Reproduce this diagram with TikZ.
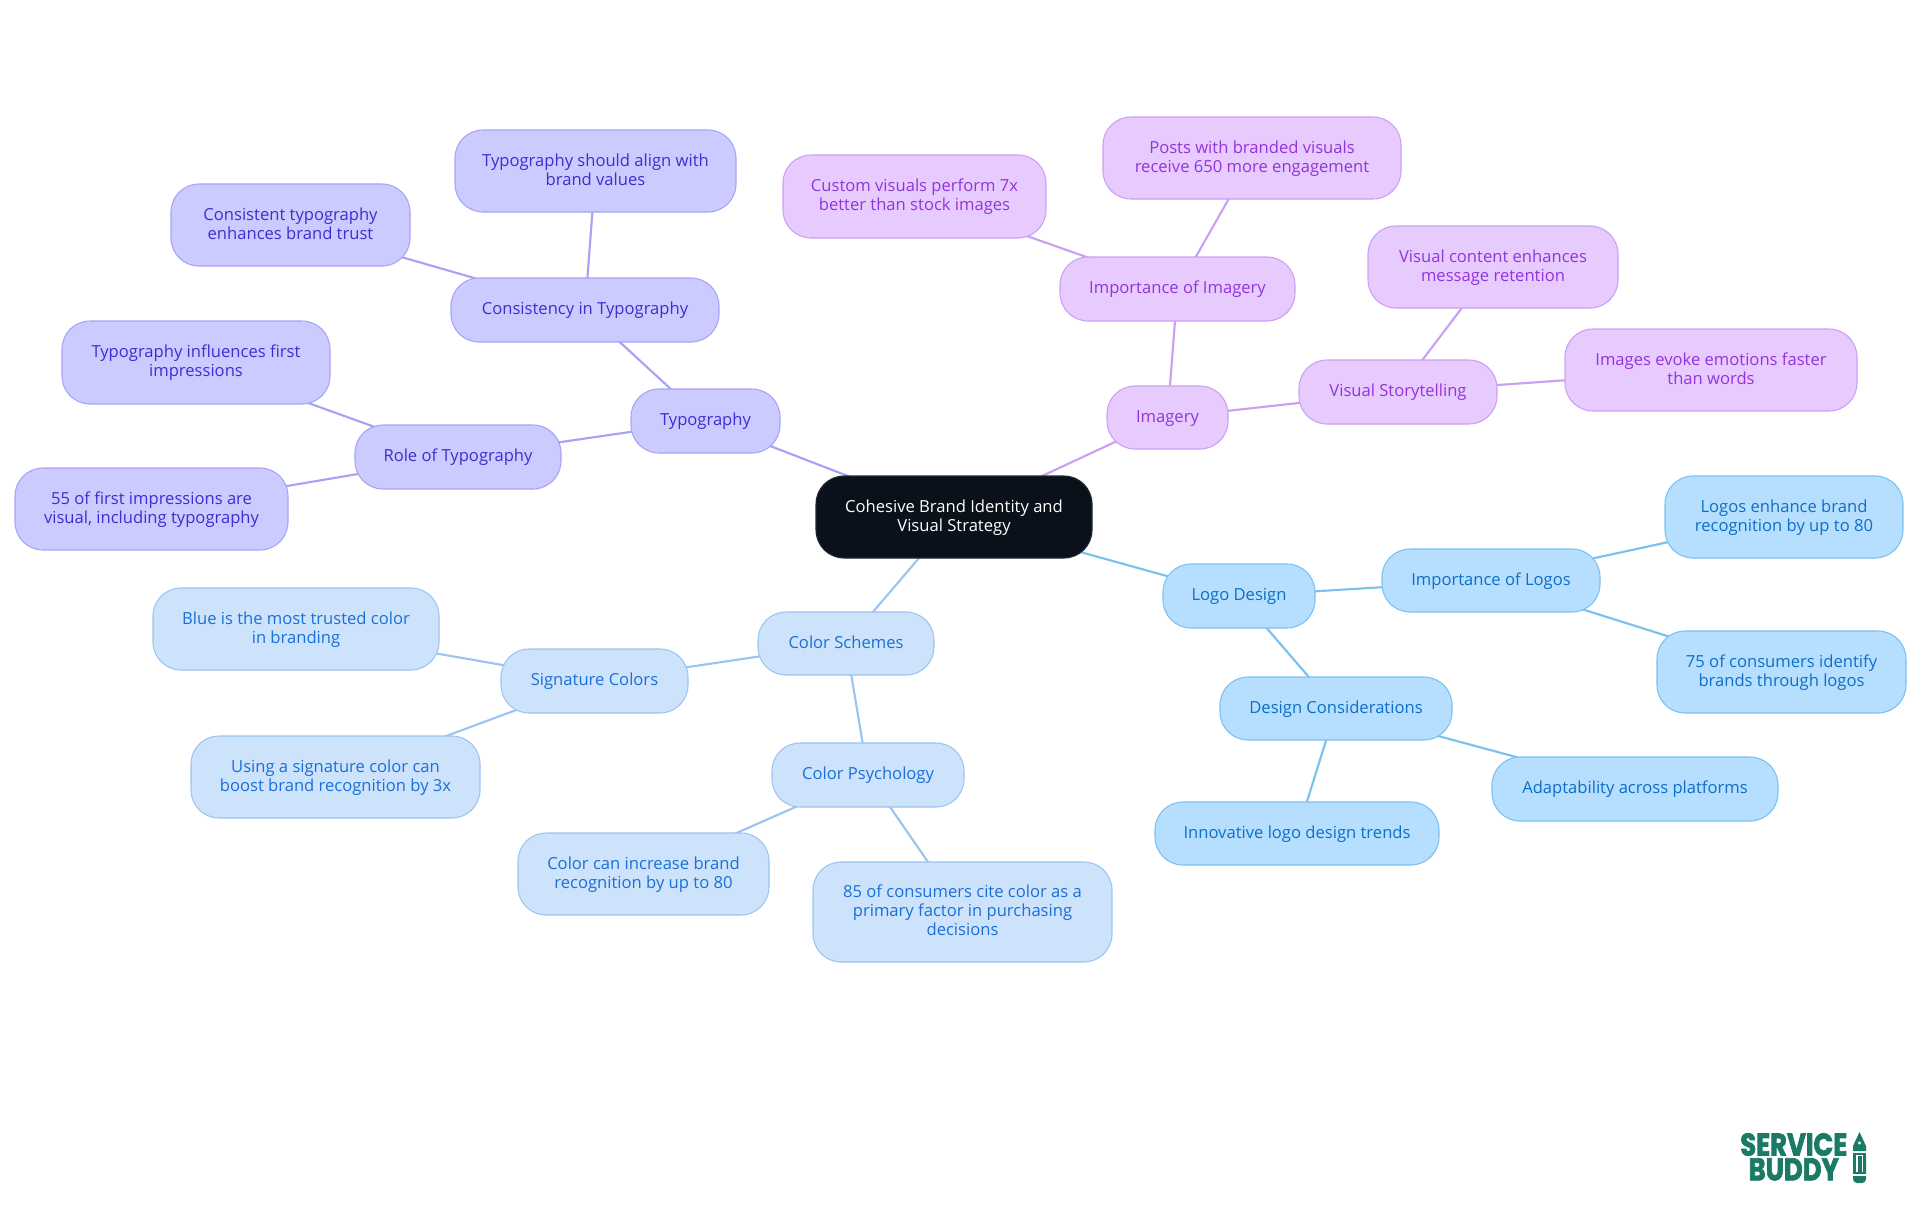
\documentclass[tikz,border=0pt]{standalone}
\usepackage{fontspec}
\setmainfont{Open Sans}
\newfontfamily\logofont[BoldFeatures={FakeBold=2.5}]{Poppins}
\usetikzlibrary{backgrounds}
\definecolor{rootfill}{HTML}{0B111A}
\definecolor{tyfill}{HTML}{CCCBFF}\definecolor{tyline}{HTML}{A5A3F5}\definecolor{tytext}{HTML}{3A2FD2}
\definecolor{imfill}{HTML}{E7CBFF}\definecolor{imline}{HTML}{CB9FF2}\definecolor{imtext}{HTML}{9234DC}
\definecolor{lgfill}{HTML}{B5DEFF}\definecolor{lgline}{HTML}{7CC0F0}\definecolor{lgtext}{HTML}{0F6FC6}
\definecolor{csfill}{HTML}{CDE3FC}\definecolor{csline}{HTML}{9CC4F0}\definecolor{cstext}{HTML}{1A6FD8}
\definecolor{brand}{HTML}{1B7A66}
\tikzset{
  box/.style={rounded corners=21pt,line width=0.8pt,inner sep=0pt,font=\fontsize{12.45}{14.25}\selectfont},
  rootbox/.style={box,fill=rootfill,draw=rootfill!90!white,text=white},
  tybox/.style={box,fill=tyfill,draw=tyline,text=tytext},
  imbox/.style={box,fill=imfill,draw=imline,text=imtext},
  lgbox/.style={box,fill=lgfill,draw=lgline,text=lgtext},
  csbox/.style={box,fill=csfill,draw=csline,text=cstext},
  tyedge/.style={draw=tyline,line width=1.6pt},
  imedge/.style={draw=imline,line width=1.6pt},
  lgedge/.style={draw=lgline,line width=1.6pt},
  csedge/.style={draw=csline,line width=1.6pt},
}
\newcommand{\nd}[7]{\node[#6,minimum width={(#4-#2)*0.75pt},minimum height={(#5-#3)*0.75pt}] (#1) at ({(#2+#4)/2},{(#3+#5)/2}) {\raisebox{-0.6pt}[\height][\depth]{\begin{tabular}{@{}c@{}}#7\end{tabular}}};}
\begin{document}
\begin{tikzpicture}[x=0.75pt,y=-0.75pt]
\useasboundingbox (0,0) rectangle (1920,1215);
\nd{root}{816}{476}{1092}{558}{rootbox}{Cohesive Brand Identity and\\Visual Strategy}
\nd{ty}{631}{389}{780}{453}{tybox}{Typography}
\nd{tycons}{451}{278}{719}{342}{tybox}{Consistency in Typography}
\nd{tyalign}{455}{130}{736}{212}{tybox}{Typography should align with\\brand values}
\nd{tytrust}{171}{184}{410}{266}{tybox}{Consistent typography\\enhances brand trust}
\nd{tyrole}{355}{425}{561}{489}{tybox}{Role of Typography}
\nd{tyfirst}{62}{321}{330}{404}{tybox}{Typography influences first\\impressions}
\nd{tyfive}{15}{468}{288}{550}{tybox}{55 of first impressions are\\visual, including typography}
\nd{im}{1107}{386}{1228}{449}{imbox}{Imagery}
\nd{imimp}{1060}{257}{1295}{321}{imbox}{Importance of Imagery}
\nd{imcustom}{783}{155}{1046}{238}{imbox}{Custom visuals perform 7x\\better than stock images}
\nd{imposts}{1103}{117}{1401}{199}{imbox}{Posts with branded visuals\\receive 650 more engagement}
\nd{imstory}{1299}{360}{1497}{424}{imbox}{Visual Storytelling}
\nd{imcontent}{1368}{226}{1618}{308}{imbox}{Visual content enhances\\message retention}
\nd{imevoke}{1565}{329}{1857}{411}{imbox}{Images evoke emotions faster\\than words}
\nd{lg}{1163}{564}{1315}{628}{lgbox}{Logo Design}
\nd{lgimp}{1382}{549}{1600}{612}{lgbox}{Importance of Logos}
\nd{lgenh}{1665}{476}{1903}{558}{lgbox}{Logos enhance brand\\recognition by up to 80}
\nd{lgsev}{1657}{631}{1906}{713}{lgbox}{75 of consumers identify\\brands through logos}
\nd{lgdes}{1220}{677}{1452}{740}{lgbox}{Design Considerations}
\nd{lgadapt}{1492}{757}{1778}{821}{lgbox}{Adaptability across platforms}
\nd{lginno}{1155}{802}{1439}{865}{lgbox}{Innovative logo design trends}
\nd{cs}{758}{612}{934}{675}{csbox}{Color Schemes}
\nd{cssig}{501}{649}{688}{713}{csbox}{Signature Colors}
\nd{csblue}{153}{588}{439}{670}{csbox}{Blue is the most trusted color\\in branding}
\nd{csusing}{191}{736}{480}{818}{csbox}{Using a signature color can\\boost brand recognition by 3x}
\nd{cspsy}{772}{743}{964}{807}{csbox}{Color Psychology}
\nd{cscan}{518}{833}{769}{915}{csbox}{Color can increase brand\\recognition by up to 80}
\nd{cseight}{813}{862}{1112}{962}{csbox}{85 of consumers cite color as a\\primary factor in purchasing\\decisions}
\begin{pgfonlayer}{background}
\draw[tyedge] (root.center)--(ty.center);
\draw[tyedge] (ty.center)--(tycons.center);
\draw[tyedge] (ty.center)--(tyrole.center);
\draw[tyedge] (tycons.center)--(tyalign.center);
\draw[tyedge] (tycons.center)--(tytrust.center);
\draw[tyedge] (tyrole.center)--(tyfirst.center);
\draw[tyedge] (tyrole.center)--(tyfive.center);
\draw[imedge] (root.center)--(im.center);
\draw[imedge] (im.center)--(imimp.center);
\draw[imedge] (im.center)--(imstory.center);
\draw[imedge] (imimp.center)--(imcustom.center);
\draw[imedge] (imimp.center)--(imposts.center);
\draw[imedge] (imstory.center)--(imcontent.center);
\draw[imedge] (imstory.center)--(imevoke.center);
\draw[lgedge] (root.center)--(lg.center);
\draw[lgedge] (lg.center)--(lgimp.center);
\draw[lgedge] (lg.center)--(lgdes.center);
\draw[lgedge] (lgimp.center)--(lgenh.center);
\draw[lgedge] (lgimp.center)--(lgsev.center);
\draw[lgedge] (lgdes.center)--(lgadapt.center);
\draw[lgedge] (lgdes.center)--(lginno.center);
\draw[csedge] (root.center)--(cs.center);
\draw[csedge] (cs.center)--(cssig.center);
\draw[csedge] (cs.center)--(cspsy.center);
\draw[csedge] (cssig.center)--(csblue.center);
\draw[csedge] (cssig.center)--(csusing.center);
\draw[csedge] (cspsy.center)--(cscan.center);
\draw[csedge] (cspsy.center)--(cseight.center);
\end{pgfonlayer}
% logo
\node[inner sep=0pt,text=brand,anchor=north west] (logo) at (1740,1133) {\resizebox{80.25pt}{35.25pt}{\logofont\bfseries\shortstack{SERVICE\\[-2.2pt]BUDDY}}};
\fill[brand] (1859.5,1132) -- (1866,1146) -- (1866,1151) -- (1853,1151) -- (1853,1146) -- cycle;
\fill[white] (1859.5,1143) circle (1.6);
\fill[brand,rounded corners=3pt] (1853,1153) rectangle (1866,1183);
\fill[brand] (1853,1153) rectangle (1866,1165);
\fill[white] (1856,1155) rectangle (1857.5,1172);
\fill[white] (1861.5,1155) rectangle (1863,1172);
\fill[white] (1856,1155) rectangle (1863,1156.2);
\fill[white] (1853,1174) rectangle (1866,1175.5);
\end{tikzpicture}
\end{document}
